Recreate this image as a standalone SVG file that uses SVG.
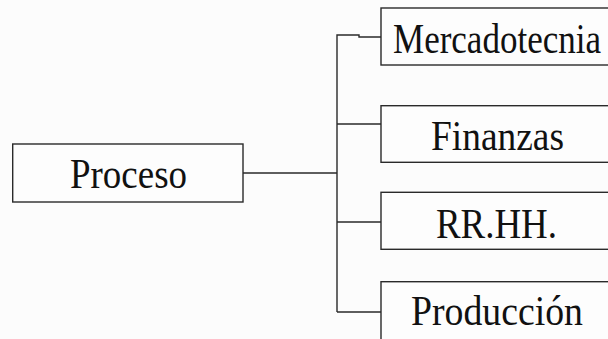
<svg xmlns="http://www.w3.org/2000/svg" width="608" height="339" viewBox="0 0 608 339">
<style>
.box{fill:#fdfdfd;stroke:#2a2a2a;stroke-width:1.4}
.lbl{font-size:43px;fill:#111}
.conn{fill:none;stroke:#2a2a2a;stroke-width:1.4}
</style>
<rect width="608" height="339" fill="#fcfcfc"/>
<g id="connectors">
<path class="conn" d="M243,173 H337"/>
<path class="conn" d="M337,312 V35 H359 V37 H381"/>
<path class="conn" d="M337,124 H381"/>
<path class="conn" d="M337,222 H381"/>
<path class="conn" d="M337,312 H381"/>
</g>
<g font-family="Liberation Serif, Times New Roman, serif">
<g id="proceso">
<rect class="box" x="12.7" y="144" width="230.3" height="58"/>
<text class="lbl" x="70" y="188" textLength="117" lengthAdjust="spacingAndGlyphs">Proceso</text>
</g>
<g id="mercadotecnia">
<rect class="box" x="381" y="8" width="235" height="57"/>
<text class="lbl" x="393" y="53" textLength="208" lengthAdjust="spacingAndGlyphs">Mercadotecnia</text>
</g>
<g id="finanzas">
<rect class="box" x="381" y="105.7" width="235" height="56.6"/>
<text class="lbl" x="431" y="150" textLength="133" lengthAdjust="spacingAndGlyphs">Finanzas</text>
</g>
<g id="rrhh">
<rect class="box" x="381" y="192.3" width="235" height="57"/>
<text class="lbl" x="436" y="238.3" textLength="121" lengthAdjust="spacingAndGlyphs">RR.HH.</text>
</g>
<g id="produccion">
<rect class="box" x="381" y="281.7" width="235" height="70"/>
<text class="lbl" x="411" y="325" textLength="172" lengthAdjust="spacingAndGlyphs">Producción</text>
</g>
</g>
</svg>
